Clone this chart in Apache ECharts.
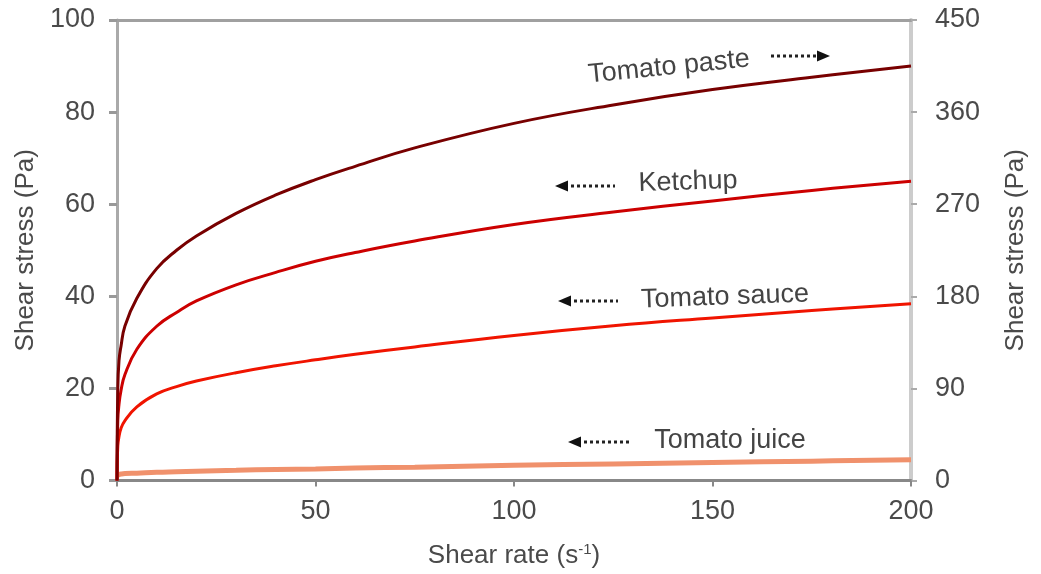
<!DOCTYPE html>
<html>
<head>
<meta charset="utf-8">
<script src="https://cdn.jsdelivr.net/npm/echarts@6/dist/echarts.min.js"></script>
<style>html,body{margin:0;padding:0;background:#fff;}#c{width:1041px;height:574px;}</style>
</head>
<body>
<div id="c"></div>
<script>
// Shear rate (s^-1)
const shearRate = [0, 0.2, 0.5, 1, 2, 5, 10, 15, 20, 30, 40, 50, 60, 75, 100, 125, 150, 175, 200];
// Tomato paste, right axis (Pa, 0-450)
const tomatoPaste = [0, 90, 117, 131, 151, 178, 207, 225, 239, 261, 279, 294, 307, 325, 349, 367, 382, 394, 405];
// Left axis (Pa, 0-100)
const ketchup = [0, 13, 16.5, 19.5, 23, 28.5, 33.5, 36.5, 39, 42.5, 45.2, 47.6, 49.5, 52, 55.6, 58.3, 60.7, 63, 65];
const tomatoSauce = [0, 7.5, 9.5, 11.3, 13, 16, 18.8, 20.4, 21.6, 23.4, 24.9, 26.2, 27.4, 29.0, 31.5, 33.6, 35.3, 36.9, 38.4];
const tomatoJuice = [1.2, 1.2, 1.3, 1.4, 1.5, 1.6, 1.8, 1.9, 2.0, 2.2, 2.4, 2.5, 2.7, 2.9, 3.3, 3.6, 3.9, 4.2, 4.5];
const xTicks = [0, 50, 100, 150, 200];
const leftTicks = [0, 20, 40, 60, 80, 100];
const rightTicks = [0, 90, 180, 270, 360, 450];

const FONT = '"Liberation Sans", Arial, sans-serif';
const TXT = '#4a4a4a';
const pairs = ys => shearRate.map((x, i) => [x, ys[i]]);

const chart = echarts.init(document.getElementById('c'), null, {renderer: 'canvas'});

function lineSeries(name, ys, color, width, yIdx) {
  return {
    name, type: 'line', data: pairs(ys), yAxisIndex: yIdx, xAxisIndex: 0,
    showSymbol: false, smooth: 0.45,
    lineStyle: {color, width}, itemStyle: {color}, z: 3
  };
}

chart.setOption({
  animation: false,
  backgroundColor: '#fff',
  grid: {left: 117, right: 130, top: 20, bottom: 90, containLabel: false},
  xAxis: [{
    type: 'value', min: xTicks[0], max: xTicks[xTicks.length - 1], interval: 50,
    position: 'bottom',
    name: '{a|Shear rate (s}{s|-1}{a|)}', nameLocation: 'middle', nameGap: 62,
    nameTextStyle: {rich: {
      a: {fontFamily: FONT, fontSize: 26, color: TXT},
      s: {fontFamily: FONT, fontSize: 15, color: TXT, verticalAlign: 'top', padding: [0, 0, 12, 0]}
    }},
    axisLine: {show: true, onZero: false, lineStyle: {color: '#888', width: 3}},
    axisTick: {show: true, inside: false, length: 6, lineStyle: {color: '#888', width: 2}},
    axisLabel: {fontFamily: FONT, fontSize: 27, color: TXT, margin: 18},
    splitLine: {show: false}
  }, {
    type: 'value', min: 0, max: 200, position: 'top',
    axisLine: {show: true, onZero: false, lineStyle: {color: '#a0a0a0', width: 3}},
    axisTick: {show: false}, axisLabel: {show: false}, splitLine: {show: false}
  }],
  yAxis: [{
    type: 'value', min: leftTicks[0], max: leftTicks[leftTicks.length - 1], interval: 20,
    position: 'left',
    name: 'Shear stress (Pa)', nameLocation: 'middle', nameGap: 76, nameRotate: 90,
    nameTextStyle: {fontFamily: FONT, fontSize: 26, color: TXT},
    axisLine: {show: true, onZero: false, lineStyle: {color: '#aaa', width: 3}},
    axisTick: {show: true, length: 8, lineStyle: {color: '#999', width: 3}},
    axisLabel: {fontFamily: FONT, fontSize: 27, color: TXT, margin: 22},
    splitLine: {show: false}
  }, {
    type: 'value', min: rightTicks[0], max: rightTicks[rightTicks.length - 1], interval: 90,
    position: 'right',
    name: 'Shear stress (Pa)', nameLocation: 'middle', nameGap: 92, nameRotate: 90,
    nameTextStyle: {fontFamily: FONT, fontSize: 26, color: TXT},
    axisLine: {show: true, onZero: false, lineStyle: {color: '#ccc', width: 4}},
    axisTick: {show: true, length: 6, lineStyle: {color: '#aaa', width: 2}},
    axisLabel: {fontFamily: FONT, fontSize: 27, color: TXT, margin: 24},
    splitLine: {show: false}
  }],
  series: [
    lineSeries('Tomato juice', tomatoJuice, '#f0916c', 5, 0),
    lineSeries('Tomato sauce', tomatoSauce, '#f01400', 3, 0),
    lineSeries('Ketchup', ketchup, '#cc0000', 3, 0),
    lineSeries('Tomato paste', tomatoPaste, '#780000', 3, 1)
  ]
});

// Annotations: text labels with dotted arrows
function label(text, x, y, rot) {
  return {type: 'text', x, y, rotation: rot, z: 10,
    style: {text, fill: '#444', font: '27px ' + FONT, align: 'center', verticalAlign: 'middle'}};
}
function arrow(x1, x2, y, dir) {
  const headX = dir > 0 ? x2 : x1;
  const baseX = headX - dir * 13;
  return [
    {type: 'line', z: 10, shape: {x1: dir > 0 ? x1 : x1 + 10, y1: y, x2: dir > 0 ? x2 - 10 : x2, y2: y},
      style: {stroke: '#222', lineWidth: 3, lineDash: [3, 3]}},
    {type: 'polygon', z: 10, shape: {points: [[headX, y], [baseX, y - 5.5], [baseX, y + 5.5]]},
      style: {fill: '#111'}}
  ];
}
chart.setOption({
  graphic: [
    label('Tomato paste', 669, 67, 0.1),
    ...arrow(771, 830, 56, 1),
    label('Ketchup', 688, 182, 0.03),
    ...arrow(555, 615, 186, -1),
    label('Tomato sauce', 725, 297, 0.035),
    ...arrow(558, 618, 301, -1),
    label('Tomato juice', 730, 441, 0),
    ...arrow(568, 630, 442, -1)
  ]
});
</script>
</body>
</html>
